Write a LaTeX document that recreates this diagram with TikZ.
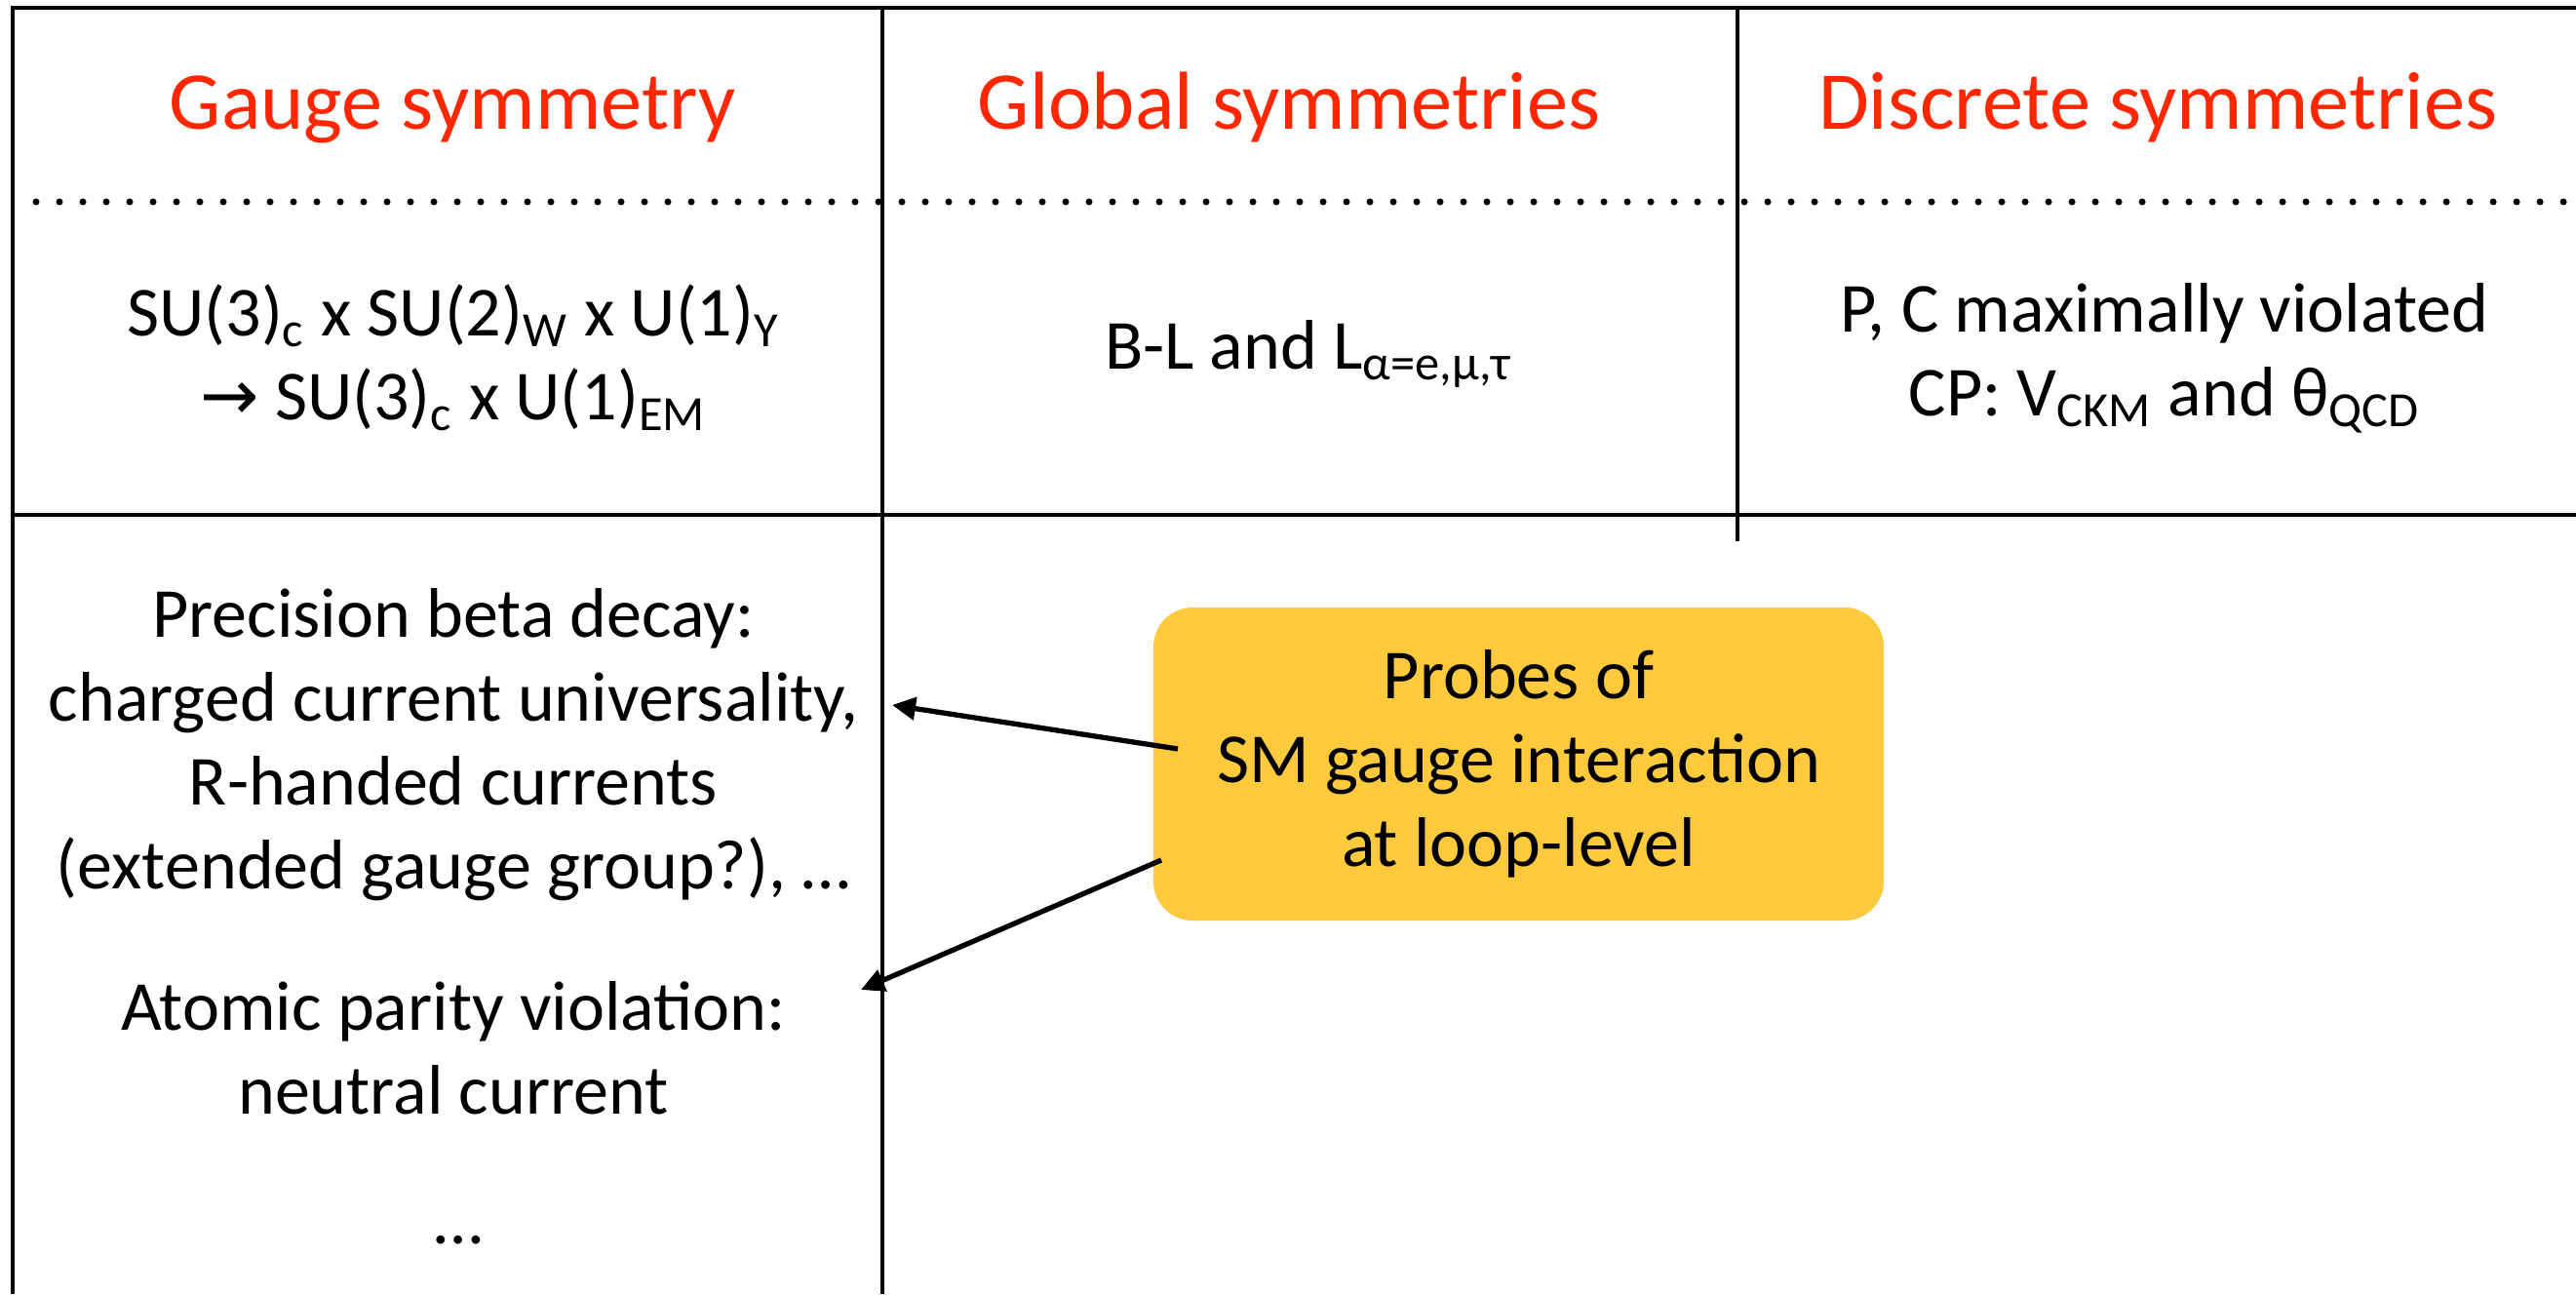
\documentclass[tikz,border=0pt]{standalone}
\usepackage{fontspec}
\setmainfont{Carlito}
\newfontfamily\arrowfont{DejaVu Sans}
\usetikzlibrary{arrows.meta}
\definecolor{headred}{RGB}{255,38,0}
\definecolor{probeyellow}{RGB}{253,201,61}

\begin{document}
\begin{tikzpicture}[
    head/.style={anchor=base, text=headred, font=\fontsize{24}{28}\selectfont},
    entry/.style={align=center, font=\fontsize{20.5}{24.5}\selectfont},
    rule/.style={line width=1pt},
    probe/.style={-{Triangle[length=2.4mm,width=2.3mm]}, line width=1.5pt}
]
    \useasboundingbox (0,0) rectangle (26.42,13.27);

    % Tabelle
    \draw[rule] (26.42,13.19) -- (0.13,13.19) -- (0.13,0);
    \draw[rule] (9.05,13.19) -- (9.05,0);
    \draw[rule] (17.82,13.19) -- (17.82,7.72);
    \draw[rule] (0.13,7.99) -- (26.42,7.99);
    \draw[line width=0.07cm, line cap=round, dash pattern=on 0pt off 0.24cm] (0.37,11.20) -- (26.42,11.20);

    % Kopfzeile
    \node[head] (gauge) at (4.64,11.94) {Gauge symmetry};
    \node[head] (global) at (13.22,11.94) {Global symmetries};
    \node[head] (discrete) at (22.13,11.94) {Discrete symmetries};

    % Symmetrien
    \node[entry] (gaugegrp) at (4.65,9.60) {SU(3)\textsubscript{c} x SU(2)\textsubscript{W} x U(1)\textsubscript{Y}\\{\arrowfont →} SU(3)\textsubscript{c} x U(1)\textsubscript{EM}};
    \node[entry, anchor=base] (lepton) at (13.42,9.48) {B-L and L\textsubscript{α=e,μ,τ}};
    \node[entry] (cpviol) at (22.20,9.60) {P, C maximally violated\\CP: V\textsubscript{CKM} and θ\textsubscript{QCD}};

    % Experimente
    \node[entry] (beta) at (4.65,5.63) {Precision beta decay:\\charged current universality,\\R-handed currents\\(extended gauge group?), …};
    \node[entry] (apv) at (4.65,2.52) {Atomic parity violation:\\neutral current};
    \node[entry, anchor=base] (more) at (4.70,0.52) {…};

    % Sonde
    \node[entry, fill=probeyellow, rounded corners=0.4cm, minimum width=7.49cm, minimum height=3.21cm] (probes) at (15.575,5.435) {Probes of\\SM gauge interaction\\at loop-level};

    \coordinate (betatip) at (9.15,6.04);
    \coordinate (apvtip) at (8.83,3.12);
    \coordinate (probeup) at (12.08,5.59);
    \coordinate (probedown) at (11.91,4.45);
    \draw[probe] (probeup) -- (betatip);
    \draw[probe] (probedown) -- (apvtip);
\end{tikzpicture}
\end{document}
